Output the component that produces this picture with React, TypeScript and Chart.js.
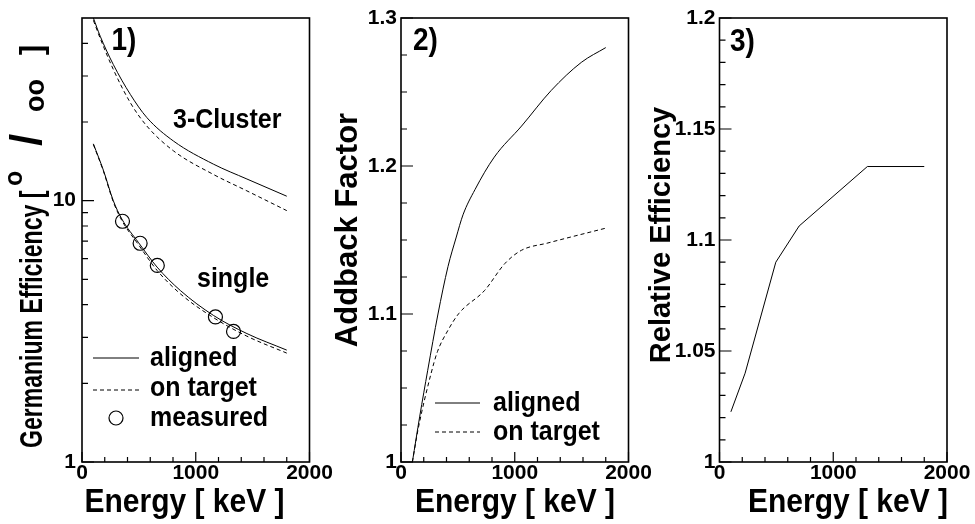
import React, { useEffect, useRef } from "react";
import { Chart, registerables } from "chart.js";

Chart.register(...registerables);

const FONT = '"Liberation Sans", Arial, Helvetica, sans-serif';
const W = 975;
const H = 524;
const Y_AXIS_W = 60;
const X_AXIS_H = 40;

// ---------- shared energy axis ----------
const ENERGY_TICKS = [0, 1000, 2000];
const ENERGY_MINOR = [200, 400, 600, 800, 1200, 1400, 1600, 1800];

// ---------- panel 1: Germanium efficiency (log) ----------
const P1_CLUSTER_E = [100, 160, 275, 425, 570, 805, 1155, 1450, 1800];
const P1_CLUSTER_ALIGNED = [50.0, 42.6, 33.2, 25.5, 20.8, 16.9, 13.8, 12.1, 10.4];
const P1_CLUSTER_TARGET = [49.0, 41.8, 31.8, 23.7, 19.3, 15.5, 12.6, 10.9, 9.16];
const P1_SINGLE_E = [100, 190, 275, 350, 495, 660, 865, 1155, 1450, 1800];
const P1_SINGLE_ALIGNED = [16.5, 13.0, 10.0, 8.51, 6.93, 5.57, 4.53, 3.64, 3.1, 2.68];
const P1_SINGLE_TARGET = [16.4, 12.9, 9.9, 8.4, 6.8, 5.41, 4.4, 3.57, 3.03, 2.61];
const P1_MEASURED_E = [356, 511, 662, 1173, 1332];
const P1_MEASURED = [8.34, 6.87, 5.65, 3.59, 3.16];
const P1_Y_TICKS = [1, 10];
const P1_Y_MINOR = [2, 3, 4, 5, 6, 7, 8, 9, 20, 30, 40];

// ---------- panel 2: Addback factor ----------
const P2_ALIGNED_E = [100, 165, 235, 325, 413, 486, 545, 650, 820, 1060, 1320, 1585, 1800];
const P2_ALIGNED = [1.0, 1.031, 1.062, 1.1, 1.132, 1.152, 1.167, 1.184, 1.206, 1.227, 1.251, 1.27, 1.28];
const P2_TARGET_E = [100, 150, 265, 320, 413, 510, 736, 912, 1058, 1292, 1800];
const P2_TARGET = [1.0, 1.022, 1.06, 1.0745, 1.089, 1.1005, 1.116, 1.134, 1.143, 1.148, 1.158];
const P2_Y_TICKS = [1, 1.1, 1.2, 1.3];
const P2_Y_MINOR = [1.025, 1.05, 1.075, 1.125, 1.15, 1.175, 1.225, 1.25, 1.275];

// ---------- panel 3: Relative efficiency ----------
const P3_E = [100, 225, 495, 700, 1300, 1800];
const P3_REL = [1.0226, 1.04, 1.09, 1.1063, 1.1331, 1.1331];
const P3_Y_TICKS = [1, 1.05, 1.1, 1.15, 1.2];
const P3_Y_MINOR = [1.01, 1.02, 1.03, 1.04, 1.06, 1.07, 1.08, 1.09, 1.11, 1.12, 1.13, 1.14, 1.16, 1.17, 1.18, 1.19];

const pts = (xs: number[], ys: number[]) => xs.map((x, i) => ({ x, y: ys[i] }));

const SOLID = {
  borderColor: "#000",
  backgroundColor: "#000",
  borderWidth: 1,
  pointRadius: 0,
  fill: false,
  cubicInterpolationMode: "monotone",
};
const DASHED = { ...SOLID, borderDash: [4, 3] };

function drawText(ctx: any, s: string, x: number, y: number, size: number, o: any = {}) {
  ctx.save();
  ctx.font = `bold ${size}px ${FONT}`;
  ctx.fillStyle = "#000";
  ctx.textAlign = o.align || "left";
  ctx.textBaseline = "alphabetic";
  ctx.translate(x, y);
  if (o.rot) ctx.rotate(o.rot);
  ctx.scale(o.sx ?? 1, o.sy ?? 1);
  ctx.fillText(s, 0, 0);
  ctx.restore();
}

function sampleLine(ctx: any, x1: number, x2: number, y: number, dash: number[]) {
  ctx.save();
  ctx.strokeStyle = "#000";
  ctx.lineWidth = 1;
  ctx.setLineDash(dash);
  ctx.beginPath();
  ctx.moveTo(x1, y);
  ctx.lineTo(x2, y);
  ctx.stroke();
  ctx.restore();
}

const ROT = -Math.PI / 2;
const TX = 1.12; // vertical stretch of the original lettering

function makeConfig(p: any) {
  return {
    type: "line",
    data: { datasets: p.datasets },
    options: {
      animation: false,
      responsive: false,
      events: [],
      layout: {
        padding: {
          left: p.area.left - Y_AXIS_W,
          right: W - p.area.right,
          top: p.area.top,
          bottom: H - p.area.bottom - X_AXIS_H,
        },
      },
      plugins: { legend: { display: false }, tooltip: { enabled: false }, title: { display: false } },
      scales: {
        x: {
          type: "linear",
          position: "bottom",
          min: 0,
          max: 2000,
          grid: { display: false, drawTicks: false },
          border: { display: false },
          ticks: {
            color: "#000",
            font: { family: FONT, size: 21, weight: "bold", lineHeight: 1 },
            padding: 1,
            maxRotation: 0,
            autoSkip: false,
            callback: (v: any) => String(v),
          },
          afterBuildTicks: (s: any) => {
            s.ticks = ENERGY_TICKS.map((v) => ({ value: v }));
          },
          afterFit: (s: any) => {
            s.height = X_AXIS_H;
          },
        },
        y: {
          type: p.yType,
          position: "left",
          min: p.yMin,
          max: p.yMax,
          grid: { display: false, drawTicks: false },
          border: { display: false },
          ticks: {
            color: "#000",
            font: { family: FONT, size: 21, weight: "bold", lineHeight: 1 },
            padding: p.yPad,
            autoSkip: false,
            callback: (v: any) => String(v),
          },
          afterBuildTicks: (s: any) => {
            s.ticks = p.yTicks.map((v: number) => ({ value: v }));
          },
          afterFit: (s: any) => {
            s.width = Y_AXIS_W;
          },
        },
      },
    },
    plugins: [
      {
        id: "decor" + p.id,
        afterDatasetsDraw(chart: any) {
          const ctx = chart.ctx;
          const a = chart.chartArea;
          const xs = chart.scales.x;
          const ys = chart.scales.y;
          ctx.save();
          ctx.strokeStyle = "#000";
          ctx.lineWidth = 1.2;
          ctx.beginPath();
          ENERGY_TICKS.forEach((v) => {
            const px = xs.getPixelForValue(v);
            ctx.moveTo(px, a.bottom);
            ctx.lineTo(px, a.bottom - 10);
          });
          ENERGY_MINOR.forEach((v) => {
            const px = xs.getPixelForValue(v);
            ctx.moveTo(px, a.bottom);
            ctx.lineTo(px, a.bottom - 5);
          });
          p.yTicks.forEach((v: number) => {
            const py = ys.getPixelForValue(v);
            ctx.moveTo(a.left, py);
            ctx.lineTo(a.left + 12, py);
          });
          p.yMinor.forEach((v: number) => {
            const py = ys.getPixelForValue(v);
            ctx.moveTo(a.left, py);
            ctx.lineTo(a.left + 6, py);
          });
          ctx.stroke();
          ctx.lineWidth = 1.6;
          ctx.strokeRect(a.left, a.top, a.right - a.left, a.bottom - a.top);
          ctx.restore();
          p.decorate(ctx, a);
        },
      },
    ],
  };
}

const panel1 = {
  id: 1,
  area: { left: 82, right: 309.5, top: 18, bottom: 462 },
  yType: "logarithmic",
  yMin: 1,
  yMax: 50,
  yTicks: P1_Y_TICKS,
  yMinor: P1_Y_MINOR,
  yPad: 6,
  datasets: [
    { ...SOLID, label: "3-Cluster aligned", data: pts(P1_CLUSTER_E, P1_CLUSTER_ALIGNED) },
    { ...DASHED, label: "3-Cluster on target", data: pts(P1_CLUSTER_E, P1_CLUSTER_TARGET) },
    { ...SOLID, label: "single aligned", data: pts(P1_SINGLE_E, P1_SINGLE_ALIGNED) },
    { ...DASHED, label: "single on target", data: pts(P1_SINGLE_E, P1_SINGLE_TARGET) },
    {
      label: "measured",
      data: pts(P1_MEASURED_E, P1_MEASURED),
      showLine: false,
      pointStyle: "circle",
      pointRadius: 7,
      borderColor: "#000",
      backgroundColor: "rgba(0,0,0,0)",
      borderWidth: 1.2,
      pointBorderWidth: 1.2,
    },
  ],
  decorate(ctx: any) {
    // y title with super/subscript
    drawText(ctx, "Germanium Efficiency [", 42, 448, 32, { rot: ROT, sx: 0.72 });
    drawText(ctx, "o", 22, 186, 25, { rot: ROT });
    drawText(ctx, "/", 41, 140, 44, { rot: ROT, align: "center" });
    drawText(ctx, "oo", 44, 112, 27, { rot: ROT });
    drawText(ctx, "]", 42, 50, 32, { rot: ROT, align: "center" });
    drawText(ctx, "Energy [ keV ]", 184.5, 512, 30, { align: "center", sy: TX });
    drawText(ctx, "1)", 111.5, 50, 28, { sy: TX });
    drawText(ctx, "3-Cluster", 173, 128, 25, { sy: TX });
    drawText(ctx, "single", 197, 287, 25, { sy: TX });
    // legend
    sampleLine(ctx, 93, 139, 358, []);
    sampleLine(ctx, 93, 139, 390, [4, 3]);
    ctx.save();
    ctx.strokeStyle = "#000";
    ctx.lineWidth = 1.2;
    ctx.beginPath();
    ctx.arc(116, 418, 7, 0, Math.PI * 2);
    ctx.stroke();
    ctx.restore();
    drawText(ctx, "aligned", 150, 366, 25, { sy: TX });
    drawText(ctx, "on target", 150, 396, 25, { sy: TX });
    drawText(ctx, "measured", 150, 426, 25, { sy: TX });
  },
};

const panel2 = {
  id: 2,
  area: { left: 401, right: 628.5, top: 18, bottom: 462 },
  yType: "linear",
  yMin: 1,
  yMax: 1.3,
  yTicks: P2_Y_TICKS,
  yMinor: P2_Y_MINOR,
  yPad: 4,
  datasets: [
    { ...SOLID, label: "aligned", data: pts(P2_ALIGNED_E, P2_ALIGNED) },
    { ...DASHED, label: "on target", data: pts(P2_TARGET_E, P2_TARGET) },
  ],
  decorate(ctx: any) {
    drawText(ctx, "Addback Factor", 357, 230, 31, { rot: ROT, align: "center" });
    drawText(ctx, "Energy [ keV ]", 515, 512, 30, { align: "center", sy: TX });
    drawText(ctx, "2)", 413, 50, 28, { sy: TX });
    sampleLine(ctx, 435, 480, 403, []);
    sampleLine(ctx, 435, 480, 432, [4, 3]);
    drawText(ctx, "aligned", 493, 411, 25, { sy: TX });
    drawText(ctx, "on target", 493, 440, 25, { sy: TX });
  },
};

const panel3 = {
  id: 3,
  area: { left: 719.5, right: 947, top: 18, bottom: 462 },
  yType: "linear",
  yMin: 1,
  yMax: 1.2,
  yTicks: P3_Y_TICKS,
  yMinor: P3_Y_MINOR,
  yPad: 4,
  datasets: [{ ...SOLID, cubicInterpolationMode: "default", tension: 0, label: "relative", data: pts(P3_E, P3_REL) }],
  decorate(ctx: any) {
    drawText(ctx, "Relative Efficiency", 670, 235, 29, { rot: ROT, align: "center" });
    drawText(ctx, "Energy [ keV ]", 848, 512, 30, { align: "center", sy: TX });
    drawText(ctx, "3)", 730, 51, 28, { sy: TX });
  },
};

export default function App() {
  const r1 = useRef<HTMLCanvasElement>(null);
  const r2 = useRef<HTMLCanvasElement>(null);
  const r3 = useRef<HTMLCanvasElement>(null);

  useEffect(() => {
    const charts = [
      new Chart(r1.current as any, makeConfig(panel1) as any),
      new Chart(r2.current as any, makeConfig(panel2) as any),
      new Chart(r3.current as any, makeConfig(panel3) as any),
    ];
    return () => charts.forEach((c) => c.destroy());
  }, []);

  const cs: any = { position: "absolute", left: 0, top: 0, width: W, height: H, display: "block" };
  return (
    <div style={{ position: "fixed", left: 0, top: 0, width: W, height: H, background: "#fff", overflow: "hidden" }}>
      <canvas ref={r1} width={W} height={H} style={cs} />
      <canvas ref={r2} width={W} height={H} style={cs} />
      <canvas ref={r3} width={W} height={H} style={cs} />
    </div>
  );
}
